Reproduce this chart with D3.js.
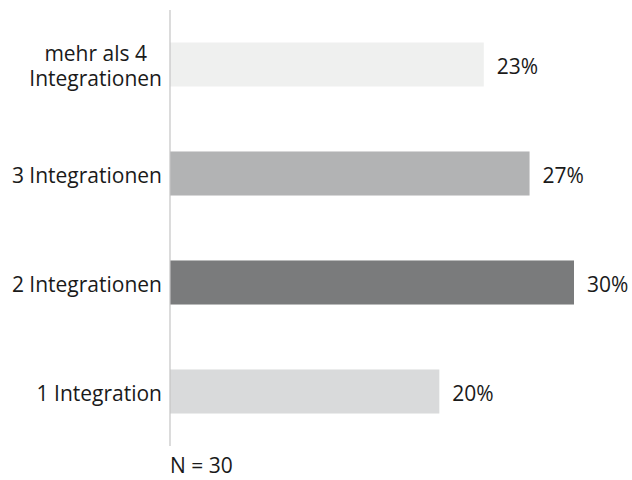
<!DOCTYPE html>
<html>
<head>
<meta charset="utf-8">
<script src="https://cdn.jsdelivr.net/npm/d3@7"></script>
<style>
  body { margin: 0; background: #fff; }
  text { font-family: "Open Sans", "Noto Sans", sans-serif; fill: #1a1a1a; }
</style>
</head>
<body>
<svg id="chart" width="632" height="480"></svg>
<script>
// Kategorien (von oben nach unten) und Anteile in Prozent
const kategorien = [["mehr als 4", "Integrationen"], ["3 Integrationen"], ["2 Integrationen"], ["1 Integration"]];
const anteile = [23.3, 26.7, 30, 20];
const farben = ["#eff0ef", "#b2b3b4", "#7a7b7c", "#d9dadb"];
const fussnote = "N = 30";

const svg = d3.select("#chart");
const x0 = 170;
const schrift = 21;

const x = d3.scaleLinear().domain([0, 30]).range([x0, 574]);
const y = d3.scaleBand()
    .domain(d3.range(kategorien.length))
    .range([10, 446])
    .paddingInner(0.596)
    .paddingOuter(0.298);

// Balken
svg.selectAll(".bar")
    .data(anteile)
    .enter().append("rect")
    .attr("class", "bar")
    .attr("x", x0)
    .attr("y", (d, i) => y(i))
    .attr("width", d => x(d) - x0)
    .attr("height", y.bandwidth())
    .attr("fill", (d, i) => farben[i]);

// Achsenlinie
svg.append("line")
    .attr("x1", x0).attr("x2", x0)
    .attr("y1", y.range()[0]).attr("y2", y.range()[1])
    .attr("stroke", "#c4c4c4")
    .attr("stroke-width", 1.2);

// Werte rechts neben den Balken
svg.selectAll(".wert")
    .data(anteile)
    .enter().append("text")
    .attr("class", "wert")
    .attr("x", d => x(d) + 13)
    .attr("y", (d, i) => y(i) + y.bandwidth() / 2 + 9)
    .attr("font-size", schrift)
    .text(d => Math.round(d) + "%");

// Kategorienbeschriftung
kategorien.forEach(function (zeilen, i) {
  const mitte = y(i) + y.bandwidth() / 2;
  if (zeilen.length === 1) {
    svg.append("text")
        .attr("x", x0 - 8)
        .attr("y", mitte + 9)
        .attr("text-anchor", "end")
        .attr("font-size", schrift)
        .text(zeilen[0]);
  } else {
    const t = svg.append("text")
        .attr("text-anchor", "middle")
        .attr("font-size", schrift);
    t.selectAll("tspan")
        .data(zeilen)
        .enter().append("tspan")
        .attr("x", 0)
        .attr("y", (d, j) => mitte - 4 + j * 25)
        .text(d => d);
    // Zeilen zentriert, Block rechtsbündig an der Achse
    const breite = t.node().getBBox().width;
    t.selectAll("tspan").attr("x", x0 - 8 - breite / 2);
  }
});

// Fußnote
svg.append("text")
    .attr("x", x0)
    .attr("y", 473)
    .attr("font-size", schrift)
    .text(fussnote);
</script>
</body>
</html>
